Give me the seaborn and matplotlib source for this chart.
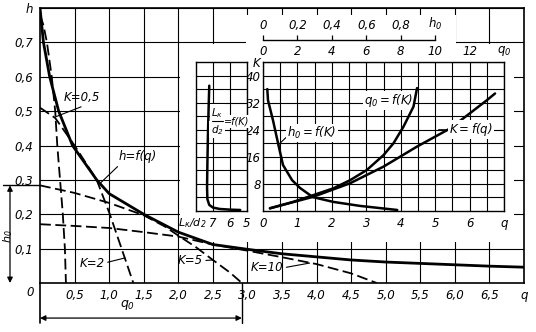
import numpy as np
import pandas as pd
import matplotlib
matplotlib.use("Agg")
import matplotlib.pyplot as plt
import seaborn as sns
from matplotlib.patches import Polygon

# ---------------- data: main chart (q, h) ----------------
hq_q = [0, 0.05, 0.14, 0.27, 0.47, 0.82, 1.0, 1.5, 2.0, 2.5, 3.0, 3.5, 4.0, 4.5, 5.0, 5.5, 6.0, 6.5, 7.0]
hq_h = [0.80, 0.70, 0.60, 0.50, 0.40, 0.30, 0.26, 0.20, 0.148, 0.112, 0.098, 0.085, 0.076, 0.067, 0.061, 0.057, 0.053, 0.049, 0.046]

K05_q = [0, 0.05, 0.10, 0.17, 0.22, 0.25, 0.29, 0.33, 0.36, 0.375]
K05_h = [0.78, 0.75, 0.70, 0.60, 0.50, 0.40, 0.30, 0.20, 0.10, 0.0]
K2_q = [0, 0.22, 0.5, 0.82, 1.01, 1.18, 1.35]
K2_h = [0.51, 0.48, 0.40, 0.30, 0.20, 0.10, 0.0]
K5_q = [0, 0.5, 1.0, 1.5, 1.8, 2.0, 2.25, 2.5, 2.75, 2.92]
K5_h = [0.284, 0.262, 0.233, 0.197, 0.165, 0.138, 0.105, 0.067, 0.03, 0.0]
K10_q = [0, 0.5, 1.0, 1.5, 2.0, 2.5, 3.0, 3.5, 4.0, 4.5, 4.87]
K10_h = [0.171, 0.166, 0.16, 0.148, 0.135, 0.112, 0.094, 0.075, 0.055, 0.028, 0.0]

main_xticks = [0.5, 1.0, 1.5, 2.0, 2.5, 3.0, 3.5, 4.0, 4.5, 5.0, 5.5, 6.0, 6.5, 7.0]
main_xlabels = ["0,5", "1,0", "1,5", "2,0", "2,5", "3,0", "3,5", "4,0", "4,5", "5,0", "5,5", "6,0", "6,5", "q"]
main_yticks = [0.1, 0.2, 0.3, 0.4, 0.5, 0.6, 0.7, 0.8]
main_ylabels = ["0,1", "0,2", "0,3", "0,4", "0,5", "0,6", "0,7", "h"]

# ---------------- data: inset (K) ----------------
Lk_vals = [7.22, 7.26, 7.30, 7.33, 7.35, 7.33, 7.22, 7.0, 6.6, 6.0, 5.4]
Lk_K = [37, 30, 22, 14, 7, 3.5, 1.8, 1.0, 0.6, 0.4, 0.3]

h0_vals = [0.025, 0.029, 0.058, 0.087, 0.116, 0.169, 0.215, 0.29, 0.407, 0.564, 0.78]
h0_K = [36, 32.7, 26.8, 20.1, 13.6, 9.1, 6.8, 4.1, 2.7, 1.5, 0.3]

q0_vals = [0.41, 1.76, 2.93, 4.09, 5.06, 6.03, 7.0, 7.58, 8.16, 8.74, 8.95]
q0_K = [0.8, 2.7, 4.7, 6.7, 9.1, 12.1, 16.5, 20, 24.9, 30.8, 36.3]

Kq_q = [0.2, 1.46, 2.53, 3.5, 4.47, 5.44, 6.5, 6.74]
Kq_K = [0.8, 4.2, 8.2, 13.1, 19, 24.4, 32.7, 34.7]

k_xticks = [0, 1, 2, 3, 4, 5, 6, 7]
k_xlabels = ["0", "1", "2", "3", "4", "5", "6", "q"]
k_yticks = [8, 16, 24, 32, 40, 44]
k_ylabels = ["8", "16", "24", "32", "40", "K"]
q0_ticks = [0, 2, 4, 6, 8, 10, 12, 14]
q0_labels = ["0", "2", "4", "6", "8", "10", "12", "$q_0$"]
h0_ticks = [0, 0.2, 0.4, 0.6, 0.8, 1.0]
h0_labels = ["0", "0,2", "0,4", "0,6", "0,8", "$h_0$"]
lk_ticks = [7, 6, 5]
lk_labels = ["7", "6", "5"]
lk_axis_title = "$L_к/d_2$"

# ---------------- style ----------------
sns.set_theme(style="white")
plt.rcParams["font.family"] = ["DejaVu Sans"]
plt.rcParams["font.style"] = "italic"
plt.rcParams["mathtext.fontset"] = "dejavusans"
plt.rcParams["mathtext.default"] = "it"
plt.rcParams["axes.edgecolor"] = "black"
plt.rcParams["text.color"] = "black"
plt.rcParams["xtick.color"] = "black"
plt.rcParams["ytick.color"] = "black"

W, H = 536, 332
fig = plt.figure(figsize=(W / 100, H / 100), dpi=100)
fig.patch.set_facecolor("white")

def fr(x0, y_bot, x1, y_top):
    return [x0 / W, 1 - y_bot / H, (x1 - x0) / W, (y_bot - y_top) / H]

FS = 8.5
GRID = dict(color="black", linewidth=0.8)
DASH = (0, (6, 2.5))

# ---------------- main axes ----------------
ax = fig.add_axes(fr(40, 283, 524, 8))
ax.set_facecolor("white")
ax.set_axisbelow(True)

def line(axx, x, y, **kw):
    df = pd.DataFrame({"x": x, "y": y})
    sns.lineplot(data=df, x="x", y="y", ax=axx, sort=False, estimator=None,
                 color="black", **kw)

line(ax, hq_q, hq_h, linewidth=2.0, zorder=4)
for qq, hh in [(K05_q, K05_h), (K2_q, K2_h), (K5_q, K5_h), (K10_q, K10_h)]:
    line(ax, qq, hh, linewidth=1.3, linestyle=DASH, zorder=3)

ax.set_xlim(0, 7)
ax.set_ylim(0, 0.8)
ax.set_xlabel("")
ax.set_ylabel("")
ax.set_xticks(main_xticks)
ax.set_xticklabels(main_xlabels)
ax.set_yticks(main_yticks)
ax.set_yticklabels(main_ylabels)
ax.tick_params(axis="both", length=0, labelsize=FS)
ax.tick_params(axis="x", pad=4)
ax.tick_params(axis="y", pad=5)
ax.grid(True, **GRID)
for s in ax.spines.values():
    s.set_linewidth(1.2)
    s.set_color("black")

# white area behind the inset
patch = Polygon([(2.03, 0.118), (6.85, 0.118), (6.85, 0.695), (6.02, 0.695),
                 (6.02, 0.78), (2.98, 0.78), (2.98, 0.695), (2.03, 0.695)],
                closed=True, facecolor="white", edgecolor="none", zorder=1)
ax.add_patch(patch)

ax.text(-0.145, -0.029, "0", ha="center", va="center", fontsize=FS, clip_on=False)

arrow_kw = dict(arrowstyle="-", color="black", lw=0.8, shrinkA=0, shrinkB=0)
ax.annotate("K=0,5", xy=(0.22, 0.483), xytext=(0.61, 0.541), fontsize=FS,
            ha="center", va="center", arrowprops=dict(relpos=(0.7, 0.0), **arrow_kw), zorder=5)
ax.annotate("h=f(q)", xy=(0.87, 0.29), xytext=(1.42, 0.367), fontsize=FS,
            ha="center", va="center", arrowprops=dict(relpos=(0.05, 0.0), **arrow_kw), zorder=5)
ax.annotate("K=2", xy=(1.23, 0.073), xytext=(0.75, 0.058), fontsize=FS,
            ha="center", va="center", arrowprops=dict(relpos=(1.0, 0.5), **arrow_kw), zorder=5)
ax.annotate("K=5", xy=(2.5, 0.067), xytext=(2.17, 0.065), fontsize=FS,
            ha="center", va="center", arrowprops=dict(relpos=(1.0, 0.5), **arrow_kw), zorder=5)
ax.annotate("K=10", xy=(3.9, 0.058), xytext=(3.28, 0.044), fontsize=FS,
            ha="center", va="center", arrowprops=dict(relpos=(1.0, 0.5), **arrow_kw), zorder=5)

# q0 and h0 dimension marks
q0_mark = K5_q[-1]
h0_mark = K5_h[0]
ax.plot([0, 0], [0, -0.116], color="black", lw=1.2, clip_on=False)
ax.plot([q0_mark, q0_mark], [0, -0.116], color="black", lw=1.0, clip_on=False)
ax.annotate("", xy=(0.0, -0.102), xytext=(q0_mark, -0.102),
            arrowprops=dict(arrowstyle="<|-|>", color="black", lw=0.9,
                            shrinkA=0, shrinkB=0, mutation_scale=8), annotation_clip=False)
ax.text(1.27, -0.064, "$q_0$", ha="center", va="center", fontsize=FS + 0.5, clip_on=False)
ax.plot([-0.53, 0], [h0_mark, h0_mark], color="black", lw=1.0, clip_on=False)
ax.annotate("", xy=(-0.434, 0.0), xytext=(-0.434, h0_mark),
            arrowprops=dict(arrowstyle="<|-|>", color="black", lw=0.9,
                            shrinkA=0, shrinkB=0, mutation_scale=8), annotation_clip=False)
ax.text(-0.46, 0.137, "$h_0$", rotation=90, ha="center", va="center", fontsize=FS - 0.5, clip_on=False)

# ---------------- inset: K plot ----------------
axK = fig.add_axes(fr(263, 211, 504, 62))
axK.set_facecolor("white")
axK.set_axisbelow(True)
line(axK, Kq_q, Kq_K, linewidth=1.8, zorder=3)
axK.set_xlim(0, 7)
axK.set_ylim(0, 44)
axK.set_xlabel("")
axK.set_ylabel("")
axK.set_xticks(k_xticks)
axK.set_xticklabels(k_xlabels)
axK.set_xticks(np.arange(0.5, 7, 1.0), minor=True)
axK.set_yticks(k_yticks)
axK.set_yticklabels(k_ylabels)
axK.set_yticks(np.arange(4, 44, 8), minor=True)
axK.tick_params(which="both", length=0, labelsize=FS)
axK.tick_params(axis="x", pad=4)
axK.tick_params(axis="y", pad=1.5)
axK.grid(True, which="both", **GRID)
for s in axK.spines.values():
    s.set_linewidth(1.0)

tq = axK.twiny()
line(tq, q0_vals, q0_K, linewidth=1.8, zorder=3)
tq.set_xlim(0, 14)
tq.set_ylim(0, 44)
tq.set_xlabel("")
tq.set_ylabel("")
tq.set_xticks(q0_ticks)
tq.set_xticklabels(q0_labels)
tq.tick_params(axis="x", length=0, labelsize=FS, pad=3)
for s in tq.spines.values():
    s.set_visible(False)

th = axK.twiny()
line(th, h0_vals, h0_K, linewidth=1.8, zorder=3)
th.set_xlim(0, 1.4)
th.set_ylim(0, 44)
th.set_xlabel("")
th.set_ylabel("")
for k in ["bottom", "left", "right"]:
    th.spines[k].set_visible(False)
th.spines["top"].set_position(("outward", 15.8))
th.spines["top"].set_bounds(0, 1.0)
th.spines["top"].set_linewidth(1.0)
th.set_xticks(h0_ticks)
th.set_xticklabels(h0_labels)
th.tick_params(axis="x", direction="out", length=3.5, width=0.9, labelsize=FS, pad=2.5)

bb = dict(boxstyle="square,pad=0.1", facecolor="white", edgecolor="none")
axK.annotate("$h_0=f(K)$", xy=(0.44, 19.5), xytext=(1.42, 23), fontsize=FS,
             ha="center", va="center", bbox=bb,
             arrowprops=dict(relpos=(0.0, 0.3), **arrow_kw), zorder=5)
axK.text(3.66, 32.7, "$q_0=f(K)$", fontsize=FS, ha="center", va="center", bbox=bb, zorder=5)
axK.annotate("$K=f(q)$", xy=(5.1, 24.0), xytext=(6.05, 24.0), fontsize=FS,
             ha="center", va="center", bbox=bb,
             arrowprops=dict(relpos=(0.0, 0.5), **arrow_kw), zorder=5)

# ---------------- inset: Lk/d2 plot ----------------
axL = fig.add_axes(fr(196, 211, 247, 62))
axL.set_facecolor("white")
axL.set_axisbelow(True)
line(axL, Lk_vals, Lk_K, linewidth=1.8, zorder=3)
axL.set_xlim(8, 5)
axL.set_ylim(0, 44)
axL.set_xlabel("")
axL.set_ylabel("")
axL.set_xticks(lk_ticks)
axL.set_xticklabels(lk_labels)
axL.set_yticks(np.arange(4, 44, 4))
axL.set_yticklabels([])
axL.tick_params(which="both", length=0, labelsize=FS)
axL.tick_params(axis="x", pad=4)
axL.grid(True, **GRID)
for s in axL.spines.values():
    s.set_linewidth(1.0)
axL.annotate(lk_axis_title, xy=(8, 0), xytext=(-3, -8.5), textcoords="offset points",
             ha="center", va="center", fontsize=FS - 0.5, annotation_clip=False)

# fraction label  L_k / d_2 = f(K)
bbf = dict(boxstyle="square,pad=0.15", facecolor="white", edgecolor="none")
axL.text(6.74, 29.0, "$L_к$", fontsize=7.5, ha="center", va="center", bbox=bbf, zorder=5)
axL.text(6.74, 24.0, "$d_2$", fontsize=7.5, ha="center", va="center", bbox=bbf, zorder=5)
axL.plot([7.05, 6.42], [26.6, 26.6], color="black", lw=0.8, zorder=6)
axL.text(6.38, 26.3, "=f(K)", fontsize=7, ha="left", va="center", bbox=bbf, zorder=5)

fig.savefig("out.png", dpi=100, facecolor="white")
